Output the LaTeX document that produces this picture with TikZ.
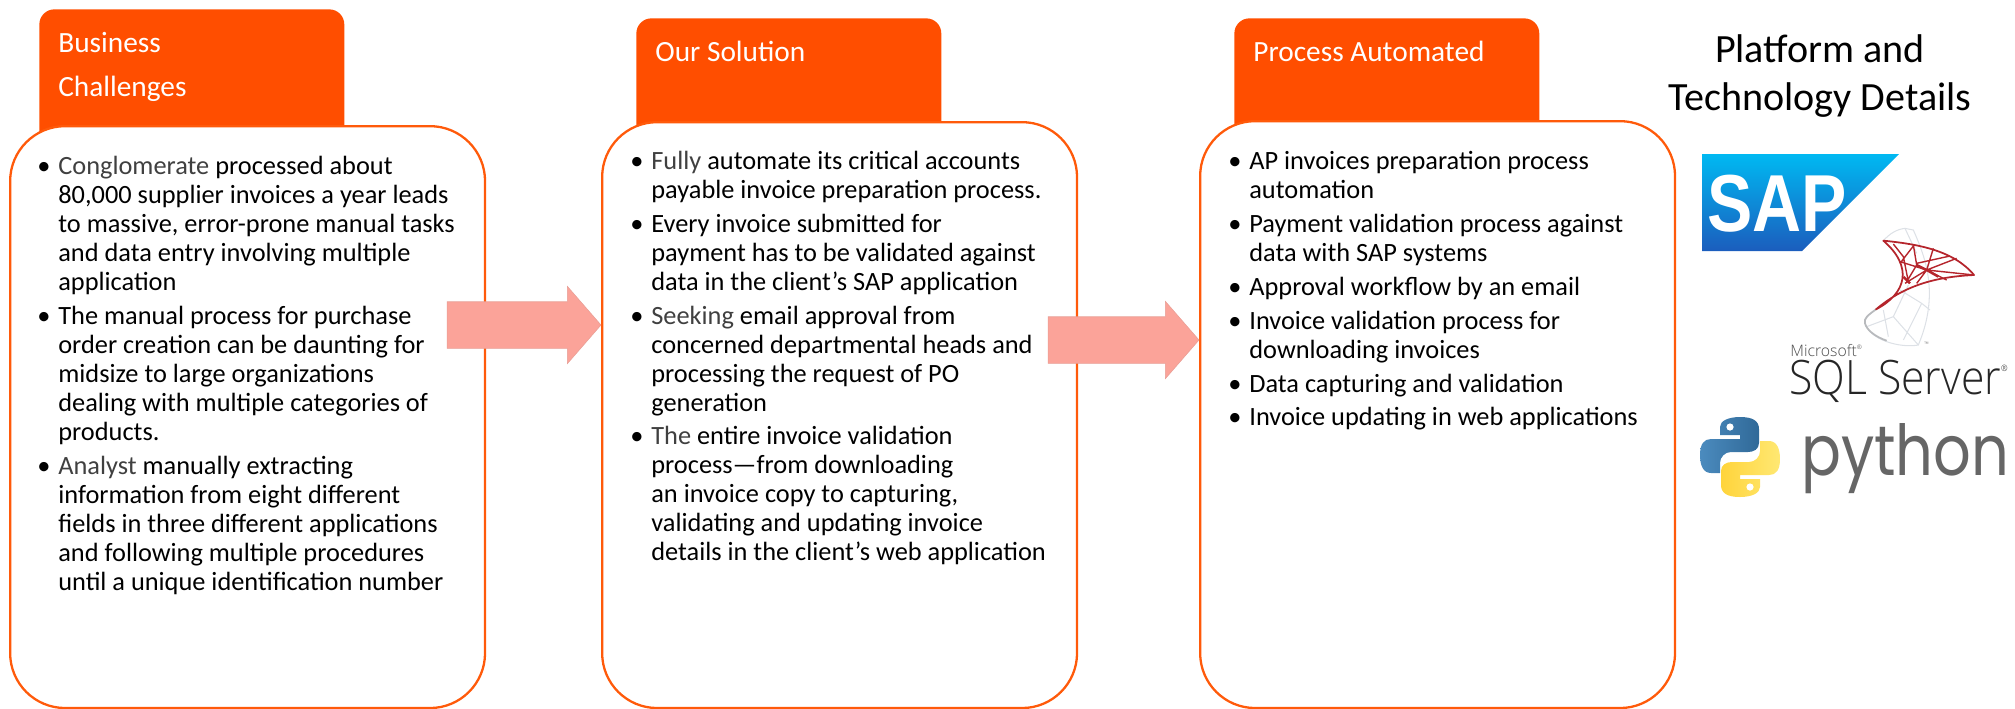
\documentclass[tikz,border=0pt]{standalone}
\usepackage{fontspec}
\setmainfont{Carlito}
\newfontfamily\sapfont{Liberation Sans}
\newfontfamily\sqlfont{Open Sans Light}
\newfontfamily\pyfont{Poppins}
\usetikzlibrary{shapes.arrows}
\definecolor{hdrorange}{HTML}{FF4E00}
\definecolor{boxorange}{HTML}{FF5A0A}
\definecolor{arrowpink}{HTML}{FBA399}
\definecolor{lighttext}{HTML}{404040}
\definecolor{sqlred}{HTML}{B5252C}
\definecolor{sqlgrey}{HTML}{DDE1E6}
\definecolor{sapcyan}{HTML}{00B9F2}
\definecolor{sapblue}{HTML}{1B5DBD}
\definecolor{pyblueA}{HTML}{4B8BBE}
\definecolor{pyblueB}{HTML}{306998}
\definecolor{pyyellowA}{HTML}{FFE873}
\definecolor{pyyellowB}{HTML}{FFD43B}
\tikzset{
  x=0.02cm,y=-0.02cm,
  hdrbox/.style={anchor=north west,fill=hdrorange,minimum width=6.1cm,rounded corners=0.3cm,inner sep=0pt},
  hdrtext/.style={anchor=west,text=white,inner sep=0pt,font=\fontsize{16.7}{17}\selectfont},
  bodybox/.style={anchor=north west,draw=boxorange,line width=1.3pt,fill=white,minimum width=9.5cm,rounded corners=1.1cm,inner sep=0pt},
  listtext/.style={anchor=north west,align=left,inner sep=0pt,font=\fontsize{15}{16.5}\selectfont},
  blockarrow/.style={shape=single arrow,anchor=west,fill=arrowpink,draw=arrowpink!85!gray,line width=0.3pt,inner xsep=0pt,inner ysep=0.46cm,outer sep=0pt,single arrow head indent=0pt,single arrow head extend=0.31cm,single arrow tip angle=98},
  logotext/.style={inner sep=0pt,anchor=base west},
}
\newcommand{\bul}{\leavevmode\llap{\textbullet\hspace{4.5pt}}\strut}
\newcommand{\regmark}[2]{\raisebox{#2}{\fontsize{#1}{#1}\selectfont ®}}
\begin{document}
\begin{tikzpicture}
  \useasboundingbox (0,0) rectangle (2015,708);
  % headers
  \node[hdrbox,minimum height=2.82cm] (hdrA) at (39,9) {};
  \node[hdrbox,minimum height=2.64cm] (hdrB) at (636,18) {};
  \node[hdrbox,minimum height=2.64cm] (hdrC) at (1234,18) {};
  % boxes
  \node[bodybox,minimum height=11.64cm] (boxA) at (9,125) {};
  \node[bodybox,minimum height=11.72cm] (boxB) at (601,121) {};
  \node[bodybox,minimum height=11.74cm] (boxC) at (1199,120) {};
  \node[hdrtext] (titleA1) at (58,43) {Business};
  \node[hdrtext] (titleA2) at (58,89) {Challenges};
  \node[hdrtext] (titleB) at (655,51) {Our Solution};
  \node[hdrtext] (titleC) at (1253,51) {Process Automated};
  % first box
  \node[listtext] (itemA1) at (58,154) {\bul{\color{lighttext}Conglomerate} processed about\\80,000 supplier invoices a year leads\\to massive, error-prone manual tasks\\and data entry involving multiple\\application};
  \node[listtext] (itemA2) at (58,304) {\bul The manual process for purchase\\order creation can be daunting for\\midsize to large organizations\\dealing with multiple categories of\\products.};
  \node[listtext] (itemA3) at (58,454) {\bul{\color{lighttext}Analyst} manually extracting\\information from eight different\\fields in three different applications\\and following multiple procedures\\until a unique identification number};
  % second box
  \node[listtext] (itemB1) at (651,149) {\bul{\color{lighttext}Fully} automate its critical accounts\\payable invoice preparation process.};
  \node[listtext] (itemB2) at (651,212) {\bul Every invoice submitted for\\payment has to be validated against\\data in the client’s SAP application};
  \node[listtext] (itemB3) at (651,304) {\bul{\color{lighttext}Seeking} email approval from\\concerned departmental heads and\\processing the request of PO\\generation};
  \node[listtext] (itemB4) at (651,424) {\bul{\color{lighttext}The} entire invoice validation\\process—from downloading\\an invoice copy to capturing,\\validating and updating invoice\\details in the client’s web application};
  % third box
  \node[listtext] (itemC1) at (1249,149) {\bul AP invoices preparation process\\automation};
  \node[listtext] (itemC2) at (1249,212) {\bul Payment validation process against\\data with SAP systems};
  \node[listtext] (itemC3) at (1249,275) {\bul Approval workflow by an email};
  \node[listtext] (itemC4) at (1249,309) {\bul Invoice validation process for\\downloading invoices};
  \node[listtext] (itemC5) at (1249,372) {\bul Data capturing and validation};
  \node[listtext] (itemC6) at (1249,405) {\bul Invoice updating in web applications};
  % arrows
  \node[blockarrow,minimum height=3.08cm] (arrowA) at (447,325) {};
  \node[blockarrow,minimum height=3.02cm] (arrowB) at (1048,340) {};
  % right column
  \node[inner sep=0pt,align=center,font=\fontsize{22.8}{27}\selectfont] (platform) at (1820,76) {Platform and\\Technology Details};
  % SAP
  \shade[top color=sapcyan,bottom color=sapblue] (1702,154) -- (1899,154) -- (1802,251) -- (1702,251) -- cycle;
  \node[logotext,text=white,font=\sapfont\bfseries\fontsize{46}{46}\selectfont,xscale=0.84,transform shape] (sap) at (1707,231) {SAP};
  % SQL Server
  \begin{scope}[shift={(1850,220)},x=0.00667cm,y=-0.00667cm]
    \begin{scope}[sqlgrey,line width=0.6pt]
      \draw (100,62) .. controls (120,40) and (140,28) .. (165,25) -- (190,30) .. controls (225,110) and (270,220) .. (205,375) .. controls (150,385) and (60,360) .. (45,310) .. controls (42,295) and (60,280) .. (78,268);
      \draw (165,25) -- (200,100) (150,210) -- (215,250) -- (240,270) (215,250) -- (160,360) (100,270) -- (115,350) (50,320) -- (130,290) -- (205,375) (175,195) -- (130,290);
    \end{scope}
    \draw[sqlgrey!60!gray,line width=1pt] (78,268) .. controls (55,285) and (40,295) .. (45,310) .. controls (50,330) and (75,350) .. (110,362);
    \draw[sqlred,line width=1pt,line join=round] (100,62) .. controls (200,72) and (310,90) .. (372,165) .. controls (270,170) and (170,190) .. (78,268) .. controls (170,220) and (190,140) .. (100,62) -- cycle;
    \draw[sqlred,line width=0.8pt] (130,72) -- (160,110) -- (175,185) (190,78) -- (150,130) (250,85) -- (230,150) -- (290,180) (320,115) -- (230,150) -- (165,190) (150,125) -- (230,150) -- (372,165) (200,130) -- (300,108) (190,75) -- (200,135) -- (170,185) (200,190) -- (230,150);
    \draw[sqlred,line width=1.4pt] (200,135) -- (230,150) -- (265,170) (160,170) -- (180,190);
    \node[logotext,text=black!60,font=\sqlfont\fontsize{3.5}{3.5}\selectfont] (sqltm) at (222,380) {™};
  \end{scope}
  \node[logotext,text=black!70,font=\sqlfont\fontsize{9}{9}\selectfont] (microsoft) at (1790,356) {Microsoft\regmark{3.5}{3.5pt}};
  \node[logotext,text=black!85,font=\sqlfont\fontsize{27}{27}\selectfont,xscale=0.9,transform shape] (sqlserver) at (1789,394) {SQL Server\regmark{5}{13pt}};
  % python
  \begin{scope}[shift={(1740,457)}]
    \shade[left color=pyblueA,right color=pyblueB] (0,-40) .. controls (13,-40) and (19,-36) .. (19,-28) -- (19,-14) .. controls (19,-8) and (14,-5) .. (8,-5) -- (-9,-5) .. controls (-15,-5) and (-20,0) .. (-20,6) -- (-20,16) -- (-29,16) .. controls (-37,16) and (-40,8) .. (-40,-2) .. controls (-40,-13) and (-36,-18) .. (-29,-18) -- (0,-18) -- (0,-22) -- (-20,-22) -- (-20,-30) .. controls (-20,-36) and (-12,-40) .. (0,-40) -- cycle;
    \fill[white] (-10,-30) circle (3.6);
    \begin{scope}[rotate=180]
      \shade[left color=pyyellowB,right color=pyyellowA] (0,-40) .. controls (13,-40) and (19,-36) .. (19,-28) -- (19,-14) .. controls (19,-8) and (14,-5) .. (8,-5) -- (-9,-5) .. controls (-15,-5) and (-20,0) .. (-20,6) -- (-20,16) -- (-29,16) .. controls (-37,16) and (-40,8) .. (-40,-2) .. controls (-40,-13) and (-36,-18) .. (-29,-18) -- (0,-18) -- (0,-22) -- (-20,-22) -- (-20,-30) .. controls (-20,-36) and (-12,-40) .. (0,-40) -- cycle;
      \fill[white] (-10,-30) circle (3.6);
    \end{scope}
  \end{scope}
  \node[logotext,text=black!60,font=\pyfont\fontsize{40}{40}\selectfont,xscale=0.84,transform shape] (python) at (1801,475) {python};
\end{tikzpicture}
\end{document}
